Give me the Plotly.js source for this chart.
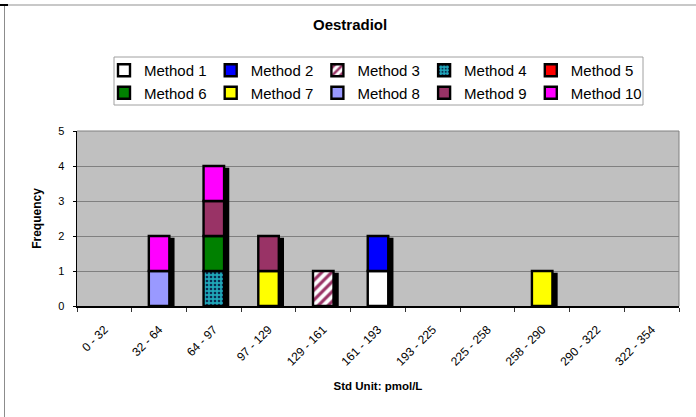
<!DOCTYPE html>
<html>
<head>
<meta charset="utf-8">
<script src="https://cdn.plot.ly/plotly-3.0.1.min.js"></script>
<style>
  html, body { margin: 0; padding: 0; background: #ffffff; }
  #wrap { position: relative; width: 696px; height: 417px; overflow: hidden; }
  #chart { position: absolute; left: 0; top: 0; width: 696px; height: 417px; }
  #frame { position: absolute; left: 4px; top: 4px; width: 692px; height: 413px;
           border-left: 1px solid #8c8c8c; border-top: 2px solid #c8c8c8; pointer-events: none; }
  #corner { position: absolute; left: 0; top: 4px; width: 8px; height: 2px; background: #000; }
</style>
</head>
<body>
<div id="wrap">
  <div id="chart"></div>
  <div id="frame"></div>
  <div id="corner"></div>
</div>
<script>
// ---- data ----
var categories = ['0 - 32', '32 - 64', '64 - 97', '97 - 129', '129 - 161', '161 - 193',
                  '193 - 225', '225 - 258', '258 - 290', '290 - 322', '322 - 354'];
var method1  = [0, 0, 0, 0, 0, 1, 0, 0, 0, 0, 0];
var method2  = [0, 0, 0, 0, 0, 1, 0, 0, 0, 0, 0];
var method3  = [0, 0, 0, 0, 1, 0, 0, 0, 0, 0, 0];
var method4  = [0, 0, 1, 0, 0, 0, 0, 0, 0, 0, 0];
var method5  = [0, 0, 0, 0, 0, 0, 0, 0, 0, 0, 0];
var method6  = [0, 0, 1, 0, 0, 0, 0, 0, 0, 0, 0];
var method7  = [0, 0, 0, 1, 0, 0, 0, 0, 1, 0, 0];
var method8  = [0, 1, 0, 0, 0, 0, 0, 0, 0, 0, 0];
var method9  = [0, 0, 1, 1, 0, 0, 0, 0, 0, 0, 0];
var method10 = [0, 1, 1, 0, 0, 0, 0, 0, 0, 0, 0];
var seriesNames = ['Method 1', 'Method 2', 'Method 3', 'Method 4', 'Method 5',
                   'Method 6', 'Method 7', 'Method 8', 'Method 9', 'Method 10'];
var yTicks = [0, 1, 2, 3, 4, 5];

// ---- styles ----
var seriesData = [method1, method2, method3, method4, method5, method6, method7, method8, method9, method10];
var styles = [
  {color: '#ffffff'},
  {color: '#0000ff'},
  {color: '#ffffff', pattern: {shape: '/', fgcolor: '#993366', bgcolor: '#ffffff', size: 7, solidity: 0.45}},
  {color: '#1fa7b8', pattern: {shape: '.', fgcolor: '#0a2a50', bgcolor: '#1fa7b8', size: 4, solidity: 0.35}},
  {color: '#ff0000'},
  {color: '#008000'},
  {color: '#ffff00'},
  {color: '#9999ff'},
  {color: '#993366'},
  {color: '#ff00ff'}
];

var nCat = categories.length;
var barW = 0.375;          // bar width in category units
var dx = 4 / 54.7;         // shadow offset (px -> category units)
var dy = 3 / 35;           // shadow offset (px -> value units)
var font = 'Liberation Sans, Arial, sans-serif';
var legendCols = 5;

var totals = categories.map(function (c, i) {
  return seriesData.reduce(function (s, arr) { return s + arr[i]; }, 0);
});

var legendIds = ['legend', 'legend2', 'legend3', 'legend4', 'legend5'];

var traces = [];
// drop shadow behind each stacked column
traces.push({
  type: 'bar', x: categories,
  y: totals.map(function (v) { return v > 0 ? v : null; }),
  base: totals.map(function () { return -dy; }),
  width: barW, offset: -barW / 2 + dx,
  marker: {color: '#000000', line: {color: '#000000', width: 2.4}},
  showlegend: false, hoverinfo: 'skip'
});
var running = categories.map(function () { return 0; });
seriesData.forEach(function (vals, k) {
  var mk = {color: styles[k].color, line: {color: '#000000', width: 2.4}};
  if (styles[k].pattern) mk.pattern = styles[k].pattern;
  traces.push({
    type: 'bar', name: seriesNames[k], x: categories,
    y: vals.map(function (v) { return v > 0 ? v : null; }),
    base: running.slice(),
    width: barW, offset: -barW / 2,
    marker: mk,
    legend: legendIds[k % legendCols]
  });
  running = running.map(function (r, i) { return r + vals[i]; });
});

// pixel helpers for paper coords (plot area: x 77..679, y 131..306)
function px(x) { return (x - 77) / 602; }
function py(y) { return (306 - y) / 175; }

var layout = {
  width: 696, height: 417,
  margin: {l: 77, r: 17, t: 131, b: 111, pad: 0},
  paper_bgcolor: '#ffffff',
  plot_bgcolor: '#c0c0c0',
  font: {family: font, size: 11, color: '#000000'},
  barmode: 'overlay',
  title: {text: '<b>Oestradiol</b>', font: {size: 15, family: font, color: '#000'},
          x: 0.503, xref: 'container', xanchor: 'center', y: 0.94, yref: 'container', yanchor: 'middle'},
  showlegend: true,
  xaxis: {
    type: 'category', categoryarray: categories, range: [-0.5, nCat - 0.5],
    tickangle: -45, tickson: 'boundaries', ticks: 'outside', ticklen: 4, tickcolor: '#333',
    ticklabelstandoff: 10,
    showline: true, linecolor: '#000', linewidth: 2, showgrid: false,
    tickfont: {size: 12, family: font, color: '#000'},
    title: {text: '<b>Std Unit: pmol/L</b>', font: {size: 11.5, family: font, color: '#000'}, standoff: 14},
    automargin: false, fixedrange: true
  },
  yaxis: {
    range: [0, 5], tickvals: yTicks, ticktext: yTicks.map(String),
    ticks: 'outside', ticklen: 3, tickcolor: '#000', ticklabelstandoff: 6,
    showline: true, linecolor: '#000', linewidth: 1.5,
    showgrid: true, gridcolor: '#808080', gridwidth: 1, zeroline: false,
    tickfont: {size: 11, family: font, color: '#000'},
    title: {text: '<b>Frequency</b>', font: {size: 12, family: font, color: '#000'}, standoff: 14},
    automargin: false, fixedrange: true
  },
  shapes: [
    {type: 'path', xref: 'paper', yref: 'paper', layer: 'above',
     path: 'M 0,1 L 1,1 L 1,0', line: {color: '#808080', width: 1}},
    {type: 'rect', xref: 'paper', yref: 'paper', layer: 'below',
     x0: px(114), x1: px(643), y0: py(105), y1: py(57),
     fillcolor: '#ffffff', line: {color: '#a0a0a0', width: 1}}
  ]
};

legendIds.forEach(function (id, c) {
  layout[id] = {
    orientation: 'v', x: px(104 + c * 106.7), xanchor: 'left', y: py(54), yanchor: 'top',
    bgcolor: 'rgba(0,0,0,0)', borderwidth: 0,
    font: {size: 15, family: font, color: '#000'},
    traceorder: 'normal', tracegroupgap: 0, itemclick: false
  };
});

Plotly.newPlot('chart', traces, layout, {displayModeBar: false, staticPlot: true});
</script>
</body>
</html>
